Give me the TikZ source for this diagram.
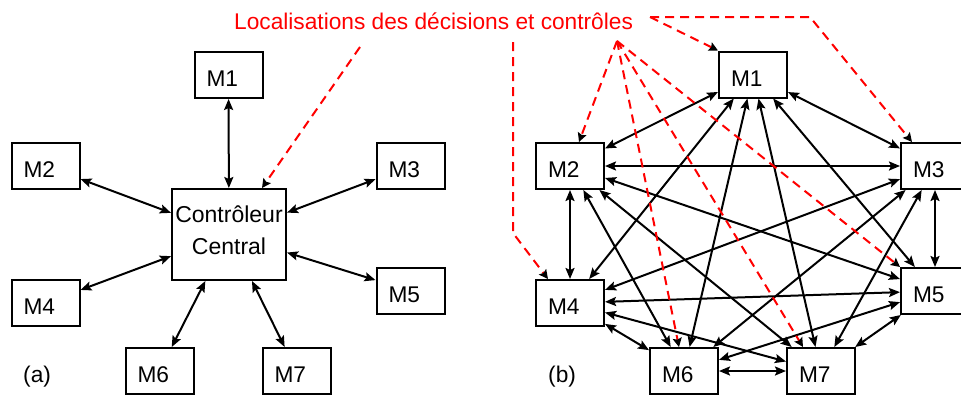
\documentclass[tikz,border=0pt]{standalone}
\usepackage{fontspec}
\setmainfont{Liberation Sans}
\usetikzlibrary{arrows.meta}

\begin{document}
\begin{tikzpicture}[x=1pt,y=-1pt,
  txt/.style={inner sep=0pt, font=\fontsize{22.7}{32}\selectfont},
  mbox/.style={draw, line width=2pt, minimum width=68pt, minimum height=46pt,
    text width=44pt, inner xsep=12pt, inner ysep=0pt, align=left,
    text height=23pt, text depth=0pt, font=\fontsize{22.7}{32}\selectfont},
  link/.style={line width=2pt,
    {Stealth[length=11pt,width=9pt,inset=2pt]}-{Stealth[length=11pt,width=9pt,inset=2pt]}},
  decline/.style={red, line width=2pt, dash pattern=on 9pt off 6pt,
    -{Stealth[length=9pt,width=9pt,inset=1.5pt,color=black]}}]
\useasboundingbox (0,0) rectangle (961,394);

\node[txt, red, anchor=base west] (loc) at (234,29) {Localisations des décisions et contrôles};

\begin{scope}
\node[mbox] (a1) at (228.5,75) {M1};
\node[mbox] (a2) at (45.5,166) {M2};
\node[mbox] (a3) at (410.5,166) {M3};
\node[mbox] (a4) at (45.5,303) {M4};
\node[mbox] (a5) at (410.5,291) {M5};
\node[mbox] (a6) at (159.5,371) {M6};
\node[mbox] (a7) at (296.5,371) {M7};
\node[draw, line width=2pt, minimum width=114pt, minimum height=91pt, inner sep=0pt,
  align=center, text depth=8pt, font=\fontsize{23}{32}\selectfont] (ctrl) at (229,234.5) {Contrôleur\\Central};
\node[txt, anchor=base west] (lbla) at (23,382) {(a)};

\foreach \i in {1,...,7}
  \draw[link] (ctrl) -- (a\i);

\coordinate (dec) at (360,47);
\draw[decline] (dec) -- ([xshift=33pt]ctrl.north);
\end{scope}

\begin{scope}
\node[mbox] (b1) at (753,74.5) {M1};
\node[mbox] (b2) at (570,166) {M2};
\node[mbox] (b3) at (935,166) {M3};
\node[mbox] (b4) at (570,303) {M4};
\node[mbox] (b5) at (935,291) {M5};
\node[mbox] (b6) at (684,371) {M6};
\node[mbox] (b7) at (821,371) {M7};
\node[txt, anchor=base west] (lblb) at (548,382) {(b)};

\foreach \i/\j in {1/2,1/3,1/4,1/5,1/6,1/7,2/3,2/4,2/5,2/6,2/7,3/4,3/5,3/6,3/7,4/5,4/6,4/7,5/6,5/7,6/7}
  \draw[link] (b\i) -- (b\j);

\coordinate (hub) at (617,41);
\coordinate (top) at (650,17);
\coordinate (bend) at (810,17);
\coordinate (lft) at (513,42);
\coordinate (lftb) at (513,233);
\draw[decline] (top) -- (b1.north west);
\draw[decline] (top) -- (bend) -- ([xshift=-23pt]b3.north);
\draw[decline] (lft) -- (lftb) -- ([xshift=-22pt]b4.north);
\draw[decline] (hub) -- ([xshift=9pt]b2.north);
\draw[decline] (hub) -- ([xshift=-5pt]b6.north);
\draw[decline] (hub) -- ([xshift=-18pt]b7.north);
\draw[decline] (hub) -- (b5.north west);
\end{scope}
\end{tikzpicture}
\end{document}
